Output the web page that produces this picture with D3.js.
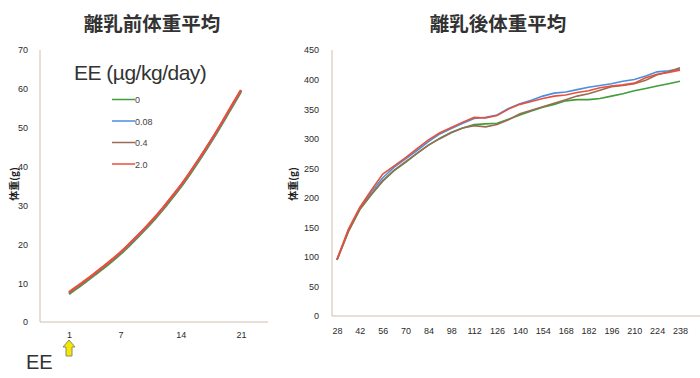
<!DOCTYPE html>
<html><head><meta charset="utf-8">
<script src="https://cdn.jsdelivr.net/npm/d3@7"></script>
<style>
html,body{margin:0;padding:0;background:#fff;}
svg{display:block;}
text{font-family:"Liberation Sans",Arial,sans-serif;}
.cjk{font-family:"Noto Sans CJK JP","Noto Sans CJK SC",sans-serif;}
</style></head>
<body>
<svg id="c" width="700" height="378"></svg>
<script>
// ---------- data ----------
const seriesNames = ["0", "0.08", "0.4", "2.0"];
const seriesColors = ["#3f9e3a", "#4a8fe0", "#9b6b55", "#e8503c"];

// pre-weaning (left)
const preDays = [1,2,3,4,5,6,7,8,9,10,11,12,13,14,15,16,17,18,19,20,21];
const pre0    = [7.2,8.8,10.4,12.1,13.8,15.6,17.5,19.6,21.8,24.1,26.5,29.1,31.9,34.7,37.8,41.1,44.5,48.0,51.7,55.5,59.2];
const pre008  = [7.5,9.1,10.7,12.4,14.1,15.9,17.8,19.9,22.1,24.4,26.8,29.4,32.2,35.0,38.1,41.4,44.8,48.3,52.0,55.8,59.5];
const pre04   = [7.5,9.1,10.7,12.4,14.1,15.9,17.9,20.0,22.2,24.5,26.9,29.5,32.3,35.1,38.2,41.5,44.9,48.4,52.1,55.9,59.6];
const pre20   = [7.7,9.3,10.9,12.6,14.3,16.1,18.0,20.1,22.3,24.6,27.0,29.6,32.4,35.2,38.3,41.6,45.0,48.5,52.2,56.0,59.7];
const preTicks = [1, 7, 14, 21];
const preYTicks = [0,10,20,30,40,50,60,70];

// post-weaning (right)
const postDays = [28,35,42,49,56,63,70,77,84,91,98,105,112,119,126,133,140,147,154,161,168,175,182,189,196,203,210,217,224,231,238];
const post0   = [95,143,180,205,228,246,260,275,289,301,311,318,324,325,326,333,340,347,353,358,364,366,366,368,372,376,381,385,389,393,397];
const post008 = [95,145,183,210,234,252,266,280,295,308,317,326,334,336,340,351,359,365,372,377,379,383,387,390,393,397,400,406,413,415,418];
const post04  = [95,143,181,206,229,247,261,275,289,300,310,318,322,320,324,332,342,348,354,360,366,372,376,382,388,390,393,399,408,413,420];
const post20  = [96,147,184,213,240,254,268,283,298,310,319,328,336,335,339,350,358,363,368,372,374,378,381,386,389,391,394,403,409,412,416];
const postTicks = [28,42,56,70,84,98,112,126,140,154,168,182,196,210,224,238];
const postYTicks = [0,50,100,150,200,250,300,350,400,450];

const svg = d3.select("#c");
const axisCol = "#cdbfb2";
const tickCol = "#2a2a2a";

// ---------- left chart ----------
const xL = d3.scaleLinear().domain([1,21]).range([69,241]);
const yL = d3.scaleLinear().domain([0,70]).range([322,50]);
const gL = svg.append("g");
gL.append("line").attr("x1",40).attr("x2",40).attr("y1",50).attr("y2",322).attr("stroke",axisCol).attr("stroke-width",1);
gL.append("line").attr("x1",40).attr("x2",268).attr("y1",322).attr("y2",322).attr("stroke",axisCol).attr("stroke-width",1);
const axLY = gL.append("g").attr("transform","translate(31,0)").call(d3.axisLeft(yL).tickValues(preYTicks).tickSize(0).tickFormat(d3.format("d")));
axLY.select(".domain").remove();
const axLX = gL.append("g").attr("transform","translate(0,329)").call(d3.axisBottom(xL).tickValues(preTicks).tickSize(0));
axLX.select(".domain").remove();
[axLY, axLX].forEach(a => a.selectAll("text").attr("font-size",9).attr("fill",tickCol).attr("font-family","Liberation Sans, Arial, sans-serif"));

const lineL = d3.line().x((d,i)=>xL(preDays[i])).y(d=>yL(d)).curve(d3.curveMonotoneX);
[pre0, pre008, pre04, pre20].forEach((s,k)=>{
  gL.append("path").attr("d",lineL(s)).attr("fill","none").attr("stroke",seriesColors[k]).attr("stroke-width",2.2);
});

// legend
svg.append("text").attr("x",74).attr("y",80).attr("font-size",21).attr("fill","#333").attr("letter-spacing",-0.5).text("EE (µg/kg/day)");
seriesNames.forEach((n,i)=>{
  const y = 99.5 + i*21.5;
  svg.append("line").attr("x1",112).attr("x2",135).attr("y1",y).attr("y2",y).attr("stroke",seriesColors[i]).attr("stroke-width",1.5);
  svg.append("text").attr("x",135).attr("y",y+3.5).attr("font-size",9).attr("fill","#444").text(n);
});

// titles
svg.append("text").attr("class","cjk").attr("x",152).attr("y",31).attr("text-anchor","middle").attr("font-size",19.5).attr("font-weight","bold").attr("fill","#333").text("離乳前体重平均");
svg.append("text").attr("class","cjk").attr("x",498).attr("y",31).attr("text-anchor","middle").attr("font-size",19.5).attr("font-weight","bold").attr("fill","#333").text("離乳後体重平均");

// y labels
svg.append("text").attr("class","cjk").attr("transform","translate(18,184) rotate(-90)").attr("text-anchor","middle").attr("font-size",10).attr("font-weight","bold").attr("fill","#222").text("体重(g)");
svg.append("text").attr("class","cjk").attr("transform","translate(297,184) rotate(-90)").attr("text-anchor","middle").attr("font-size",10).attr("font-weight","bold").attr("fill","#222").text("体重(g)");

// EE + arrow
svg.append("text").attr("x",26).attr("y",369).attr("font-size",20).attr("fill","#333").text("EE");
const ax0 = xL(1);
svg.append("path").attr("d",`M${ax0},340 L${ax0+6},347 L${ax0+3},347 L${ax0+3},356 L${ax0-3},356 L${ax0-3},347 L${ax0-6},347 Z`)
  .attr("fill","#f2e800").attr("stroke","#8a8a70").attr("stroke-width",1);

// ---------- right chart ----------
const xR = d3.scaleLinear().domain([28,238]).range([337,680]);
const yR = d3.scaleLinear().domain([0,450]).range([316,50]);
const gR = svg.append("g");
gR.append("line").attr("x1",332).attr("x2",332).attr("y1",50).attr("y2",316).attr("stroke",axisCol).attr("stroke-width",1);
gR.append("line").attr("x1",332).attr("x2",700).attr("y1",316).attr("y2",316).attr("stroke",axisCol).attr("stroke-width",1);
const axRY = gR.append("g").attr("transform","translate(322,0)").call(d3.axisLeft(yR).tickValues(postYTicks).tickSize(0).tickFormat(d3.format("d")));
axRY.select(".domain").remove();
const axRX = gR.append("g").attr("transform","translate(0,325)").call(d3.axisBottom(xR).tickValues(postTicks).tickSize(0));
axRX.select(".domain").remove();
[axRY, axRX].forEach(a => a.selectAll("text").attr("font-size",9).attr("fill",tickCol).attr("font-family","Liberation Sans, Arial, sans-serif"));

const lineR = d3.line().x((d,i)=>xR(postDays[i])).y(d=>yR(d));
[post0, post008, post04, post20].forEach((s,k)=>{
  gR.append("path").attr("d",lineR(s)).attr("fill","none").attr("stroke",seriesColors[k]).attr("stroke-width",1.6);
});
</script>
</body></html>
